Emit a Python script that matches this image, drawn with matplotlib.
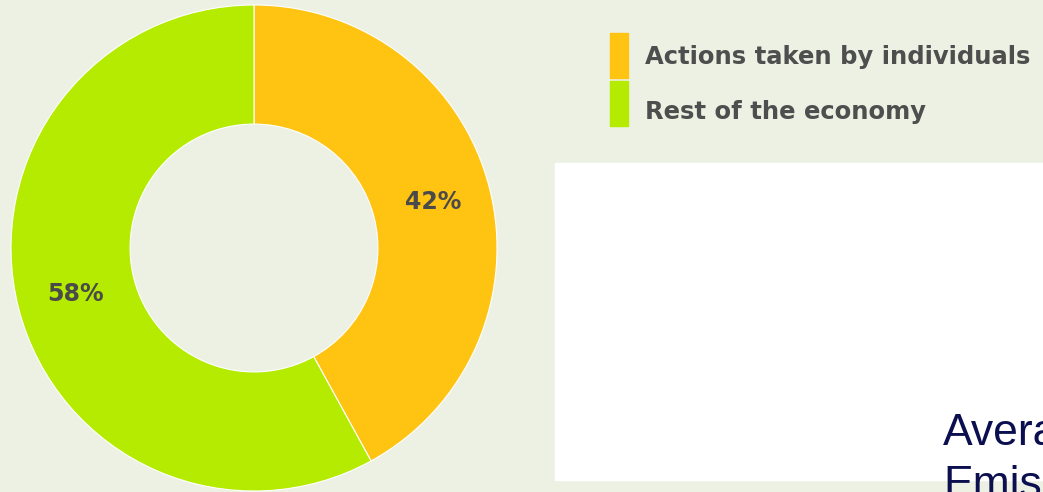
import matplotlib.pyplot as plt
from matplotlib.patches import Rectangle

# Share of emission reductions
labels = ['Actions taken by individuals', 'Rest of the economy']
shares = [42, 58]
colors = ['#FFC312', '#B4EB00']

bg = '#EDF1E3'
W, H = 1043, 492

fig = plt.figure(figsize=(W / 100, H / 100), dpi=100, facecolor=bg)

# donut: centre (254, 248) px from top-left, outer radius 243 px
cx, cy, r = 254, 248, 243
ax = fig.add_axes([(cx - r) / W, (H - cy - r) / H, 2 * r / W, 2 * r / H])
wedges, _, autotexts = ax.pie(
    shares, colors=colors, startangle=90, counterclock=False,
    autopct='%d%%', pctdistance=0.76,
    wedgeprops=dict(width=0.49, edgecolor='white', linewidth=0.8),
    textprops=dict(family='DejaVu Sans', weight='bold', size=17, color='#4A4A4A'),
)
ax.set_xlim(-1, 1)
ax.set_ylim(-1, 1)
ax.set_aspect('equal')
ax.axis('off')

# legend swatches and labels
for i, (lab, col) in enumerate(zip(labels, colors)):
    top = 33 + i * 48
    fig.patches.append(Rectangle((610 / W, 1 - (top + 45) / H), 18 / W, 45 / H,
                                 color=col, transform=fig.transFigure))
    fig.text(645 / W, 1 - (57 + i * 55) / H, lab, family='DejaVu Sans',
             weight='bold', size=17.5, color='#4E4E4E', va='center', ha='left')

# white panel with caption text
fig.patches.append(Rectangle((555 / W, 1 - 480 / H), (W - 555) / W, (480 - 163) / H,
                             color='white', transform=fig.transFigure))
fig.text(943 / W, 1 - 445 / H, 'Average', family='Liberation Sans', size=32,
         color='#0B0F4F', va='baseline', ha='left')
fig.text(943 / W, 1 - 497 / H, 'Emissions', family='Liberation Sans', size=32,
         color='#0B0F4F', va='baseline', ha='left')

fig.savefig('out.png', dpi=100, facecolor=bg)
